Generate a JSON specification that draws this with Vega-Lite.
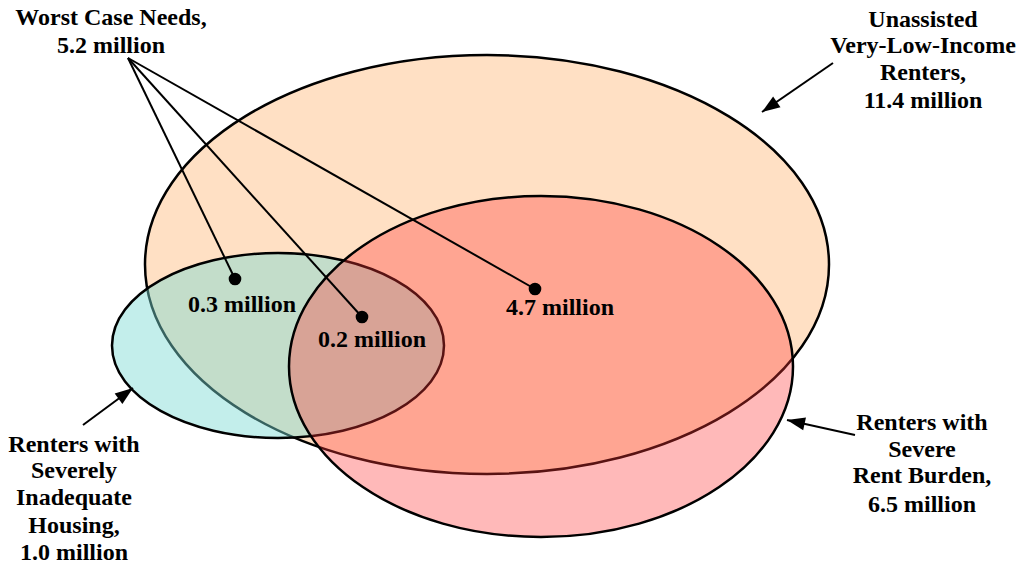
{
  "$schema": "https://vega.github.io/schema/vega-lite/v6.json",
  "width": 1019,
  "height": 565,
  "autosize": {"type": "none"},
  "padding": 0,
  "background": "white",
  "config": {"view": {"stroke": null}},
  "datasets": {
    "sets": [
      {"name": "Unassisted Very-Low-Income Renters", "cx": 487, "cy": 264.5},
      {"name": "Renters with Severely Inadequate Housing", "cx": 278, "cy": 345.5},
      {"name": "Renters with Severe Rent Burden", "cx": 541, "cy": 366.5}
    ],
    "pointers": [
      {"x": 128, "y": 58, "x2": 235, "y2": 279},
      {"x": 128, "y": 58, "x2": 362, "y2": 317},
      {"x": 128, "y": 58, "x2": 535, "y2": 289},
      {"x": 833, "y": 63, "x2": 762, "y2": 112},
      {"x": 83, "y": 425, "x2": 133, "y2": 388},
      {"x": 855, "y": 435, "x2": 787, "y2": 420}
    ],
    "dots": [
      {"segment": "0.3 million", "x": 235, "y": 279},
      {"segment": "0.2 million", "x": 362, "y": 317},
      {"segment": "4.7 million", "x": 535, "y": 289}
    ],
    "labels": [
      {"text": "Worst Case Needs,", "x": 111, "y": 25},
      {"text": "5.2 million", "x": 111, "y": 53},
      {"text": "Unassisted", "x": 923, "y": 27},
      {"text": "Very-Low-Income", "x": 923, "y": 53},
      {"text": "Renters,", "x": 923, "y": 80},
      {"text": "11.4 million", "x": 923, "y": 108},
      {"text": "Renters with", "x": 74, "y": 452},
      {"text": "Severely", "x": 74, "y": 478},
      {"text": "Inadequate", "x": 74, "y": 505},
      {"text": "Housing,", "x": 74, "y": 533},
      {"text": "1.0 million", "x": 74, "y": 560},
      {"text": "Renters with", "x": 922, "y": 430},
      {"text": "Severe", "x": 922, "y": 457},
      {"text": "Rent Burden,", "x": 922, "y": 483},
      {"text": "6.5 million", "x": 922, "y": 512},
      {"text": "0.3 million", "x": 242, "y": 312},
      {"text": "0.2 million", "x": 372, "y": 347},
      {"text": "4.7 million", "x": 560, "y": 315}
    ]
  },
  "layer": [
    {
      "data": {"name": "sets"},
      "transform": [{"filter": "datum.name === 'Unassisted Very-Low-Income Renters'"}],
      "mark": {"type": "point", "filled": true, "size": 4, "shape": "M-342,0A342,209.5,0,1,0,342,0A342,209.5,0,1,0,-342,0Z", "fill": "#FFE0C4", "fillOpacity": 1, "stroke": "black", "strokeWidth": 2.5, "strokeOpacity": 1},
      "encoding": {
        "x": {"field": "cx", "type": "quantitative", "scale": {"domain": [0, 1019], "nice": false, "zero": false}, "axis": null},
        "y": {"field": "cy", "type": "quantitative", "scale": {"domain": [0, 565], "reverse": true, "nice": false, "zero": false}, "axis": null}
      }
    },
    {
      "data": {"name": "sets"},
      "transform": [{"filter": "datum.name === 'Renters with Severely Inadequate Housing'"}],
      "mark": {"type": "point", "filled": true, "size": 4, "shape": "M-166,0A166,92.5,0,1,0,166,0A166,92.5,0,1,0,-166,0Z", "fill": "#7AD9D3", "fillOpacity": 0.45, "stroke": "black", "strokeWidth": 2.5, "strokeOpacity": 1},
      "encoding": {
        "x": {"field": "cx", "type": "quantitative"},
        "y": {"field": "cy", "type": "quantitative"}
      }
    },
    {
      "data": {"name": "sets"},
      "transform": [{"filter": "datum.name === 'Renters with Severe Rent Burden'"}],
      "mark": {"type": "point", "filled": true, "size": 4, "shape": "M-252,0A252,170.5,0,1,0,252,0A252,170.5,0,1,0,-252,0Z", "fill": "#FF3737", "fillOpacity": 0.35, "stroke": "black", "strokeWidth": 2.5, "strokeOpacity": 1},
      "encoding": {
        "x": {"field": "cx", "type": "quantitative"},
        "y": {"field": "cy", "type": "quantitative"}
      }
    },
    {
      "data": {"name": "pointers"},
      "mark": {"type": "rule", "color": "black", "strokeWidth": 2},
      "encoding": {
        "x": {"field": "x", "type": "quantitative"},
        "y": {"field": "y", "type": "quantitative"},
        "x2": {"field": "x2"},
        "y2": {"field": "y2"}
      }
    },
    {
      "data": {"values": [{"x": 762, "y": 112}]},
      "mark": {"type": "point", "filled": true, "size": 4, "shape": "M0,0L-6.5,18L6.5,18Z", "angle": 235.4, "color": "black", "opacity": 1},
      "encoding": {
        "x": {"field": "x", "type": "quantitative"},
        "y": {"field": "y", "type": "quantitative"}
      }
    },
    {
      "data": {"values": [{"x": 133, "y": 388}]},
      "mark": {"type": "point", "filled": true, "size": 4, "shape": "M0,0L-6.5,18L6.5,18Z", "angle": 53.5, "color": "black", "opacity": 1},
      "encoding": {
        "x": {"field": "x", "type": "quantitative"},
        "y": {"field": "y", "type": "quantitative"}
      }
    },
    {
      "data": {"values": [{"x": 787, "y": 420}]},
      "mark": {"type": "point", "filled": true, "size": 4, "shape": "M0,0L-6.5,18L6.5,18Z", "angle": 282.4, "color": "black", "opacity": 1},
      "encoding": {
        "x": {"field": "x", "type": "quantitative"},
        "y": {"field": "y", "type": "quantitative"}
      }
    },
    {
      "data": {"name": "dots"},
      "mark": {"type": "point", "shape": "circle", "filled": true, "size": 160, "color": "black", "opacity": 1},
      "encoding": {
        "x": {"field": "x", "type": "quantitative"},
        "y": {"field": "y", "type": "quantitative"}
      }
    },
    {
      "data": {"name": "labels"},
      "mark": {"type": "text", "font": "Liberation Serif", "fontWeight": "bold", "fontSize": 24, "align": "center", "baseline": "alphabetic", "color": "black"},
      "encoding": {
        "x": {"field": "x", "type": "quantitative"},
        "y": {"field": "y", "type": "quantitative"},
        "text": {"field": "text", "type": "nominal"}
      }
    }
  ]
}
